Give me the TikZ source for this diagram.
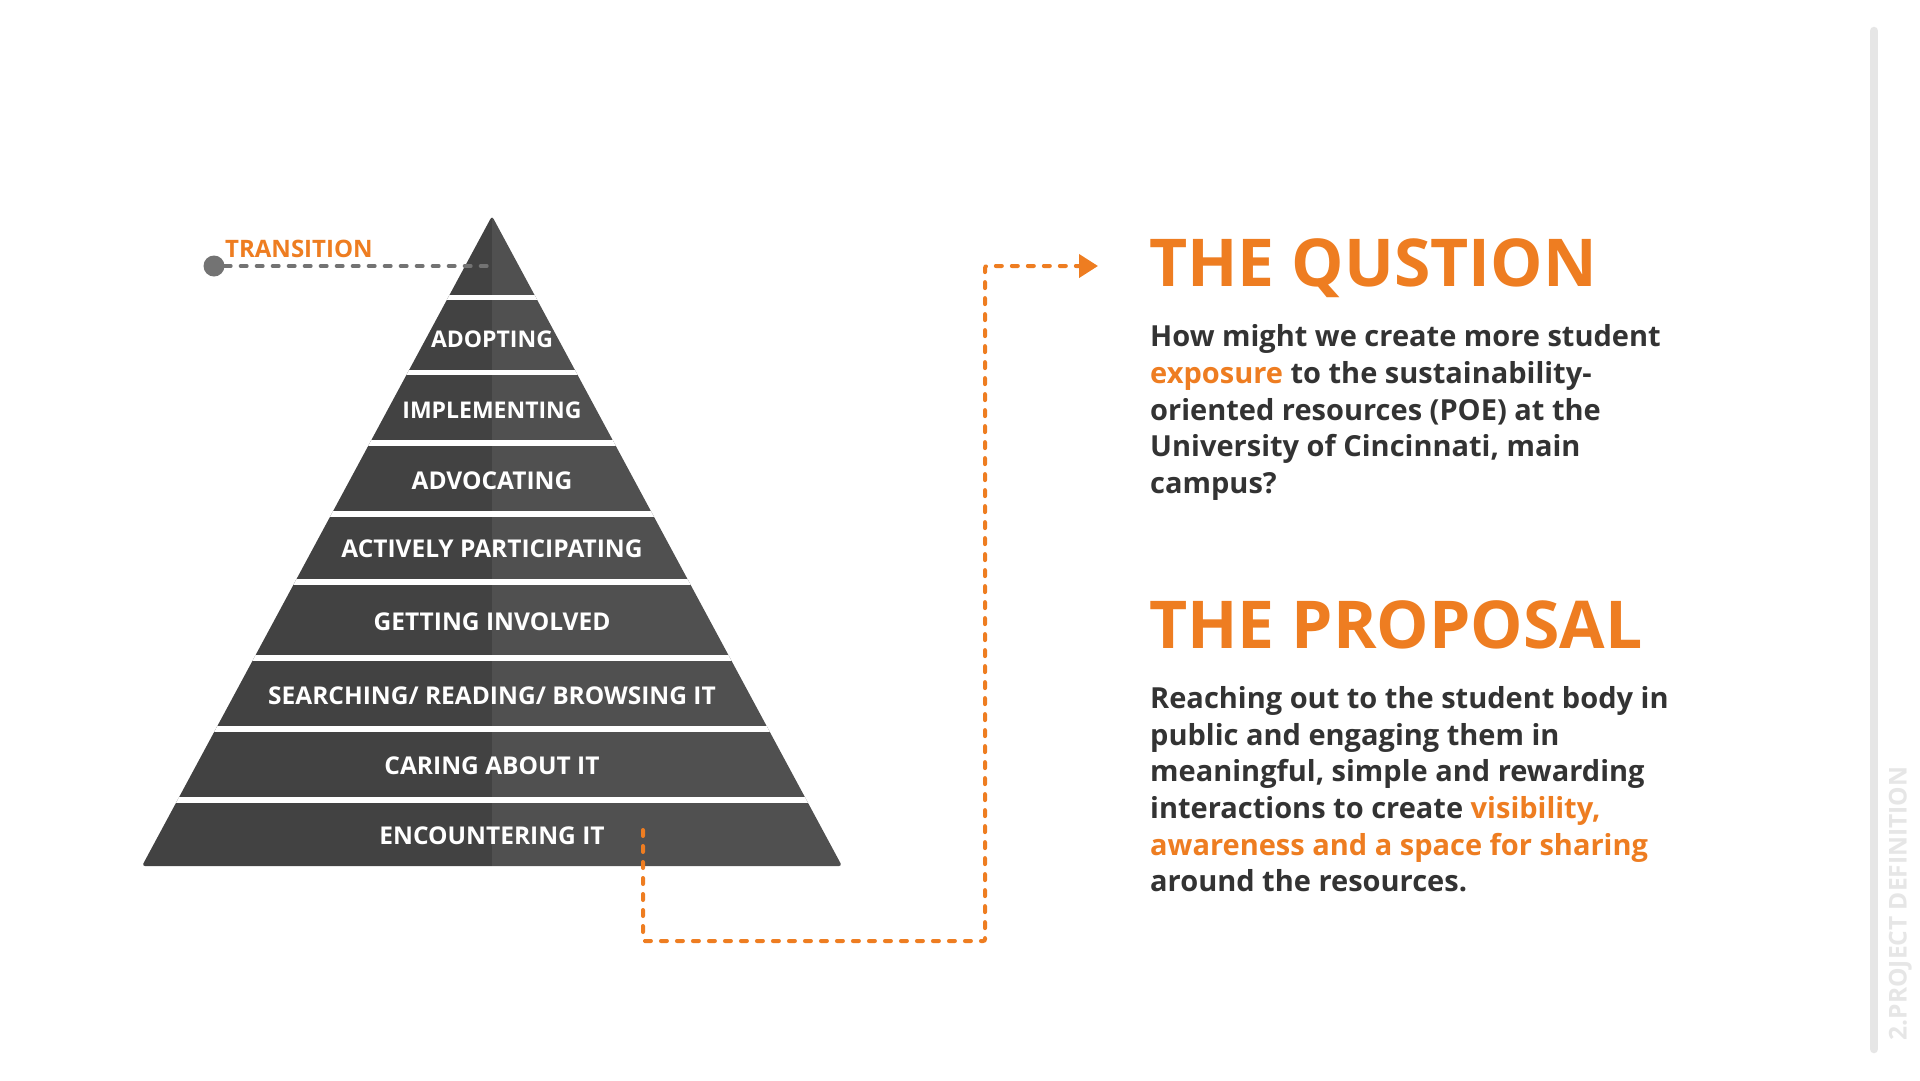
\documentclass[tikz,border=0pt]{standalone}
\usepackage{fontspec}
\setmainfont{Open Sans}
\usetikzlibrary{arrows.meta}
\definecolor{orng}{HTML}{EE7D21}
\definecolor{pyrL}{HTML}{424242}
\definecolor{pyrR}{HTML}{505050}
\definecolor{txt}{HTML}{333333}
\definecolor{barc}{HTML}{E6E6E6}
\definecolor{dashg}{HTML}{737373}
\begin{document}
\begin{tikzpicture}[x=1pt,y=-1pt,
  bandlabel/.style={text=white,font=\fontsize{24.5}{28}\selectfont\bfseries,anchor=base,inner sep=0pt},
  smallband/.style={bandlabel,font=\fontsize{23}{27}\selectfont\bfseries},
  bodyline/.style={text=txt,font=\fontsize{29}{36}\selectfont\bfseries,anchor=base west,inner sep=0pt},
  headline/.style={text=orng,font=\fontsize{66}{72}\selectfont\bfseries,anchor=base west,inner sep=0pt},
  dashline/.style={line width=4pt,line cap=round,dash pattern=on 6pt off 10pt},
]
\useasboundingbox[fill=white] (0,0) rectangle (1920,1080);

% pyramid
\begin{scope}
  \clip[rounded corners=3pt] (492,216) -- (842,866) -- (142,866) -- cycle;
  \fill[pyrL] (100,200) rectangle (492,880);
  \fill[pyrR] (492,200) rectangle (900,880);
  \foreach \a/\b in {295/300,370/375,440/446,511/517,579/585,655/661,726/732,797/803}
    \fill[white] (100,\a) rectangle (900,\b);
\end{scope}

\node[smallband] (adopt) at (492,347) {ADOPTING};
\node[smallband] (impl) at (492,418) {IMPLEMENTING};
\node[bandlabel] (advo) at (492,489) {ADVOCATING};
\node[bandlabel] (act) at (492,557.5) {ACTIVELY PARTICIPATING};
\node[bandlabel] (get) at (492,630) {GETTING INVOLVED};
\node[bandlabel] (search) at (492,704) {SEARCHING/ READING/ BROWSING IT};
\node[bandlabel] (care) at (492,774) {CARING ABOUT IT};
\node[bandlabel] (enc) at (492,844) {ENCOUNTERING IT};

% transition marker
\node[circle,fill=dashg,minimum size=21pt,inner sep=0pt] (dot) at (214,266) {};
\coordinate (apexmark) at (495,266);
\draw[dashg,dashline] (dot.east) -- (apexmark);
\node[text=orng,font=\fontsize{24}{28}\selectfont\bfseries,anchor=base west,inner sep=0pt] (trans) at (225,257) {TRANSITION};

% right texts
\node[headline] (hq) at (1149,286) {THE QUSTION};
\node[bodyline] (q1) at (1150,346.7) {How might we create more student};
\node[bodyline] (q2) at (1150,383.3) {\textcolor{orng}{exposure} to the sustainability-};
\node[bodyline] (q3) at (1150,420) {oriented resources (POE) at the};
\node[bodyline] (q4) at (1150,456.7) {University of Cincinnati, main};
\node[bodyline] (q5) at (1150,493.3) {campus?};

\node[headline] (hp) at (1149,648) {THE PROPOSAL};
\node[bodyline] (p1) at (1150,708.3) {Reaching out to the student body in};
\node[bodyline] (p2) at (1150,745) {public and engaging them in};
\node[bodyline] (p3) at (1150,781.7) {meaningful, simple and rewarding};
\node[bodyline] (p4) at (1150,818.3) {interactions to create \textcolor{orng}{visibility,}};
\node[bodyline] (p5) at (1150,855) {\textcolor{orng}{awareness and a space for sharing}};
\node[bodyline] (p6) at (1150,891.7) {around the resources.};

% orange connector
\coordinate (cstart) at (643,830);
\coordinate (ctip) at (1098,266);
\draw[orng,dashline,rounded corners=2pt,-{Triangle[length=19pt,width=23pt]}]
  (cstart) |- (985,941) |- (ctip);

% side bar
\draw[barc,line width=8.5pt,line cap=round] (1874,31) -- (1874,1049);
\node[text=barc,font=\fontsize{24.5}{28}\selectfont\bfseries,rotate=90,anchor=base,inner sep=0pt] (sect) at (1906.5,903.5) {2.PROJECT DEFINITION};
\end{tikzpicture}
\end{document}
